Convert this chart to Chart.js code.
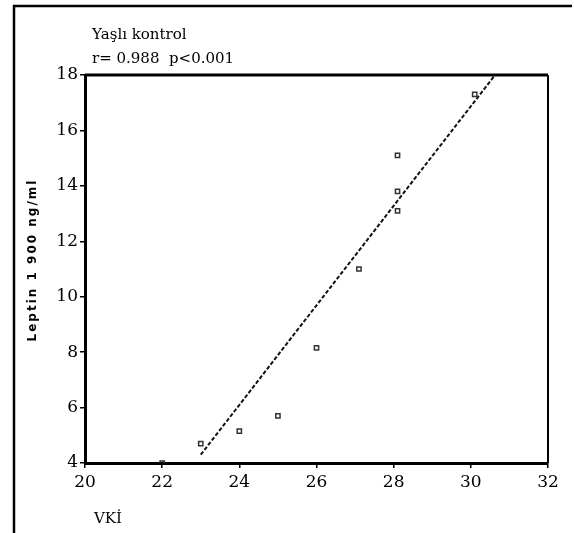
<!DOCTYPE html>
<html>
<head>
<meta charset="utf-8">
<script src="https://cdn.jsdelivr.net/npm/chart.js@4"></script>
<style>
html,body{margin:0;padding:0;background:#fff;}
#wrap{width:574px;height:533px;position:relative;}
</style>
</head>
<body>
<div id="wrap"><canvas id="c" width="574" height="533"></canvas></div>
<script>
const bmi    = [22, 23, 24, 25, 26, 27.1, 28.1, 28.1, 28.1, 30.1];
const leptin = [4.0, 4.7, 5.15, 5.7, 8.15, 11.0, 15.1, 13.8, 13.1, 17.3];
const fitX = [23.0, 30.6];
const fitY = [4.3, 17.95];
const xTicks = [20, 22, 24, 26, 28, 30, 32];
const yTicks = [4, 6, 8, 10, 12, 14, 16, 18];
const titleLines = ["Yaşlı kontrol", "r= 0.988  p<0.001"];
const xTitle = "VKİ";
const yTitle = "Leptin 1 900 ng/ml";

const serif = "'DejaVu Serif', serif";

const decor = {
  id: 'decor',
  afterDraw(chart) {
    const ctx = chart.ctx;
    const a = chart.chartArea;
    ctx.save();
    // outer frame
    ctx.strokeStyle = '#000';
    ctx.lineWidth = 2.5;
    ctx.beginPath();
    ctx.moveTo(14, 533);
    ctx.lineTo(14, 6);
    ctx.lineTo(572, 6);
    ctx.stroke();
    // top and right plot border
    ctx.lineWidth = 3;
    ctx.beginPath();
    ctx.moveTo(a.left, a.top);
    ctx.lineTo(a.right, a.top);
    ctx.stroke();
    ctx.lineWidth = 2;
    ctx.beginPath();
    ctx.moveTo(a.right, a.top);
    ctx.lineTo(a.right, a.bottom);
    ctx.stroke();
    // titles
    ctx.fillStyle = '#000';
    ctx.font = "15px " + serif;
    ctx.textBaseline = 'middle';
    ctx.textAlign = 'left';
    ctx.fillText(titleLines[0], 92, 35);
    ctx.fillText(titleLines[1], 92, 59);
    ctx.fillText(xTitle, 94, 519);
    // y title
    ctx.save();
    ctx.translate(33, 260);
    ctx.rotate(-Math.PI / 2);
    ctx.textAlign = 'center';
    ctx.font = "bold 12px 'DejaVu Sans', sans-serif";
    ctx.letterSpacing = '2px';
    ctx.fillText(yTitle, 0, 0);
    ctx.restore();
    ctx.restore();
  }
};

new Chart(document.getElementById('c'), {
  type: 'scatter',
  data: {
    datasets: [
      {
        label: 'data',
        data: bmi.map((x, i) => ({x: x, y: leptin[i]})),
        pointStyle: 'rect',
        pointRadius: 3,
        pointBorderWidth: 1.5,
        borderColor: '#333',
        backgroundColor: 'rgba(255,255,255,0)',
        showLine: false
      },
      {
        label: 'fit',
        data: fitX.map((x, i) => ({x: x, y: fitY[i]})),
        showLine: true,
        borderColor: '#111',
        borderWidth: 2,
        borderDash: [4, 2],
        pointRadius: 0,
        fill: false
      }
    ]
  },
  options: {
    responsive: false,
    animation: false,
    devicePixelRatio: 1,
    layout: { padding: { left: 0, top: 75, right: 26, bottom: 0 } },
    plugins: { legend: { display: false }, tooltip: { enabled: false }, title: { display: false } },
    scales: {
      x: {
        type: 'linear',
        min: 20, max: 32,
        afterFit(s) { s.height = 70; },
        afterBuildTicks(s) { s.ticks = xTicks.map(v => ({value: v})); },
        border: { display: true, color: '#000', width: 3 },
        grid: { display: true, drawOnChartArea: false, color: '#000', tickLength: 5, lineWidth: 1.5 },
        ticks: { color: '#000', font: { family: serif, size: 17 }, padding: 4, maxRotation: 0 }
      },
      y: {
        type: 'linear',
        min: 4, max: 18,
        afterFit(s) { s.width = 85; },
        afterBuildTicks(s) { s.ticks = yTicks.map(v => ({value: v})); },
        border: { display: true, color: '#000', width: 3 },
        grid: { display: true, drawOnChartArea: false, color: '#000', tickLength: 5, lineWidth: 1.5 },
        ticks: { color: '#000', font: { family: serif, size: 17 }, padding: 2 }
      }
    }
  },
  plugins: [decor]
});
</script>
</body>
</html>
